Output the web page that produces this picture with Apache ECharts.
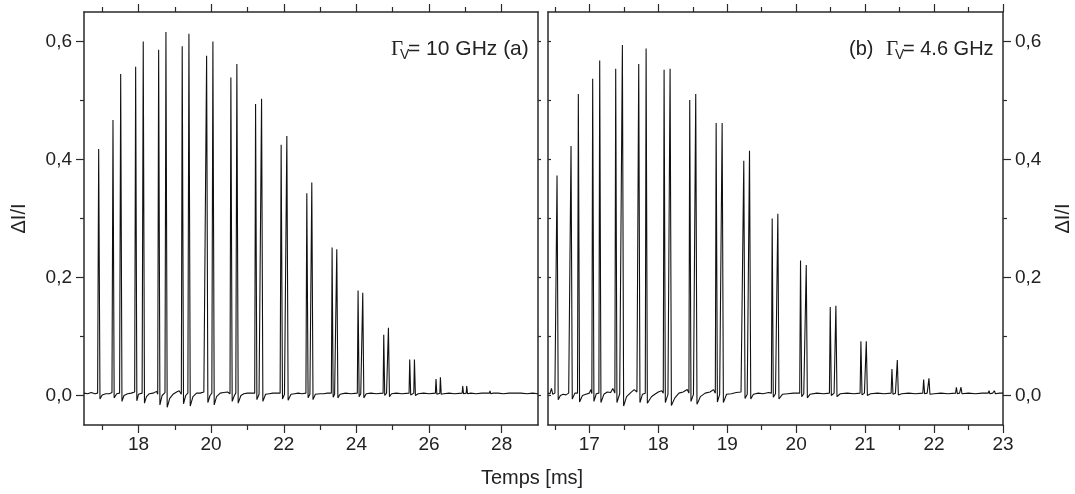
<!DOCTYPE html>
<html>
<head>
<meta charset="utf-8">
<script src="https://cdn.jsdelivr.net/npm/echarts@6/dist/echarts.min.js"></script>
<style>
html,body{margin:0;padding:0;background:#fff;}
#chart{width:1075px;height:494px;}
</style>
</head>
<body>
<div id="chart"></div>
<script>
// Panel (a): Gamma_V = 10 GHz  — [time ms, dI/I]
const traceA = [
[16.5,0.004],[16.6,0.003],[16.7,0.005],[16.8,0.003],[16.875,0.004],
[16.904,0.418],[16.94,-0.006],[17.0,0.001],[17.1,0.003],[17.2,0.003],[17.27,0.005],
[17.298,0.467],[17.33,-0.004],[17.4,0.003],[17.48,0.004],
[17.51,0.545],[17.545,-0.01],[17.6,0.0],[17.7,0.003],[17.8,0.004],[17.895,0.006],
[17.922,0.557],[17.955,-0.009],[18.0,0.002],[18.1,0.004],
[18.131,0.600],[18.165,-0.013],[18.22,-0.002],[18.3,0.003],[18.4,0.004],[18.5,0.007],[18.53,0.002],
[18.555,0.586],[18.59,-0.016],[18.65,0.0],[18.73,0.005],
[18.756,0.616],[18.79,-0.02],[18.86,-0.005],[18.95,0.002],[19.05,0.006],[19.12,0.008],[19.18,0.002],
[19.204,0.592],[19.24,-0.014],[19.3,0.0],[19.36,0.004],
[19.389,0.613],[19.425,-0.018],[19.5,-0.002],[19.6,0.004],[19.7,0.004],[19.8,0.006],[19.85,0.003],
[19.876,0.576],[19.91,-0.012],[19.97,0.0],[20.02,0.004],
[20.049,0.600],[20.085,-0.016],[20.15,-0.002],[20.25,0.004],[20.35,0.005],[20.45,0.006],[20.52,0.003],
[20.544,0.539],[20.58,-0.01],[20.64,0.0],[20.68,0.004],
[20.709,0.562],[20.745,-0.013],[20.82,0.0],[20.9,0.003],[21.0,0.004],[21.1,0.004],[21.2,0.004],
[21.224,0.494],[21.26,-0.007],[21.32,0.002],[21.36,0.004],
[21.389,0.503],[21.425,-0.01],[21.5,0.002],[21.6,0.003],[21.7,0.004],[21.8,0.004],[21.9,0.004],
[21.928,0.425],[21.965,-0.006],[22.02,0.002],[22.06,0.004],
[22.085,0.440],[22.12,-0.008],[22.2,0.002],[22.3,0.003],[22.4,0.004],[22.5,0.003],[22.61,0.004],
[22.635,0.343],[22.67,-0.004],[22.72,0.002],[22.75,0.004],
[22.772,0.361],[22.805,-0.007],[22.87,0.002],[23.0,0.003],[23.1,0.003],[23.2,0.004],[23.31,0.004],
[23.331,0.251],[23.36,-0.003],[23.4,0.002],[23.44,0.004],
[23.46,0.248],[23.49,-0.004],[23.55,0.002],[23.7,0.004],[23.85,0.003],[24.025,0.004],
[24.046,0.178],[24.075,-0.002],[24.12,0.003],[24.155,0.004],
[24.175,0.174],[24.205,-0.004],[24.27,0.003],[24.4,0.004],[24.55,0.003],[24.735,0.004],
[24.753,0.103],[24.78,0.0],[24.83,0.004],[24.865,0.004],
[24.882,0.115],[24.91,-0.002],[24.97,0.003],[25.1,0.004],[25.25,0.003],[25.45,0.004],
[25.468,0.061],[25.495,0.001],[25.54,0.004],[25.58,0.004],
[25.598,0.061],[25.625,0.0],[25.7,0.003],[25.85,0.004],[26.0,0.003],[26.175,0.004],
[26.192,0.028],[26.215,0.002],[26.26,0.004],[26.297,0.004],
[26.313,0.031],[26.335,0.002],[26.4,0.003],[26.55,0.004],[26.7,0.003],[26.912,0.004],
[26.927,0.016],[26.95,0.003],[27.0,0.004],[27.024,0.004],
[27.037,0.016],[27.06,0.003],[27.15,0.004],[27.3,0.003],[27.45,0.004],[27.665,0.004],
[27.678,0.008],[27.7,0.003],[27.766,0.004],
[27.779,0.006],[27.8,0.003],[27.9,0.004],[28.05,0.003],[28.2,0.004],[28.435,0.004],
[28.447,0.006],[28.47,0.003],[28.53,0.004],
[28.541,0.006],[28.56,0.003],[28.7,0.003],[28.85,0.004],[29.0,0.003]
];
// Panel (b): Gamma_V = 4.6 GHz — [time ms, dI/I]
const traceB = [
[16.4,0.004],[16.43,0.003],[16.45,0.012],[16.47,0.002],[16.5,0.004],[16.518,0.004],
[16.531,0.373],[16.548,-0.007],[16.58,0.0],[16.62,0.002],[16.66,0.001],[16.7,0.004],[16.722,0.004],
[16.734,0.423],[16.752,-0.006],[16.79,0.004],[16.828,0.004],
[16.840,0.511],[16.858,-0.011],[16.9,0.0],[16.95,0.002],[17.0,0.004],[17.02,0.010],[17.036,0.003],
[17.048,0.537],[17.066,-0.010],[17.1,0.003],[17.138,0.004],
[17.150,0.568],[17.168,-0.012],[17.21,0.002],[17.26,0.006],[17.31,0.005],[17.34,0.012],[17.37,0.004],
[17.382,0.554],[17.400,-0.012],[17.44,0.003],[17.467,0.004],
[17.479,0.594],[17.497,-0.018],[17.54,-0.002],[17.6,0.005],[17.65,0.010],[17.69,0.006],[17.704,0.003],
[17.716,0.562],[17.734,-0.012],[17.77,0.002],[17.811,0.004],
[17.823,0.588],[17.841,-0.013],[17.9,-0.002],[17.95,0.002],[18.0,0.006],[18.05,0.008],[18.072,0.004],
[18.084,0.552],[18.102,-0.012],[18.14,0.002],[18.159,0.004],
[18.171,0.554],[18.190,-0.017],[18.24,-0.004],[18.3,0.004],[18.36,0.006],[18.42,0.010],[18.444,0.004],
[18.456,0.501],[18.474,-0.010],[18.51,0.002],[18.531,0.004],
[18.543,0.511],[18.561,-0.015],[18.61,-0.002],[18.68,0.004],[18.75,0.006],[18.8,0.010],[18.827,0.004],
[18.839,0.462],[18.857,-0.011],[18.89,0.002],[18.914,0.004],
[18.926,0.462],[18.944,-0.012],[18.99,0.002],[19.06,0.003],[19.13,0.005],[19.2,0.006],[19.228,0.004],
[19.240,0.398],[19.258,-0.005],[19.29,0.002],[19.311,0.003],
[19.323,0.415],[19.341,-0.006],[19.38,0.002],[19.45,0.004],[19.52,0.003],[19.6,0.005],[19.64,0.004],
[19.652,0.300],[19.668,-0.003],[19.7,0.003],[19.722,0.004],
[19.734,0.308],[19.750,-0.006],[19.8,0.002],[19.88,0.003],[19.96,0.004],[20.051,0.004],
[20.063,0.229],[20.080,-0.002],[20.11,0.003],[20.134,0.004],
[20.146,0.221],[20.162,-0.004],[20.2,0.002],[20.3,0.004],[20.4,0.003],[20.482,0.004],
[20.494,0.150],[20.510,0.0],[20.55,0.004],[20.564,0.004],
[20.576,0.152],[20.592,-0.002],[20.64,0.003],[20.74,0.004],[20.84,0.003],[20.927,0.004],
[20.939,0.092],[20.955,0.001],[20.99,0.004],[21.005,0.004],
[21.017,0.092],[21.033,0.0],[21.08,0.003],[21.18,0.004],[21.28,0.003],[21.377,0.004],
[21.389,0.045],[21.404,0.002],[21.44,0.004],[21.455,0.004],
[21.467,0.060],[21.482,0.001],[21.53,0.003],[21.63,0.004],[21.73,0.003],[21.837,0.004],
[21.849,0.027],[21.863,0.003],[21.9,0.004],[21.914,0.004],
[21.926,0.029],[21.940,0.002],[22.0,0.003],[22.1,0.004],[22.2,0.003],[22.312,0.004],
[22.324,0.014],[22.338,0.003],[22.37,0.004],[22.379,0.004],
[22.391,0.014],[22.405,0.003],[22.5,0.004],[22.6,0.003],[22.7,0.004],[22.786,0.004],
[22.797,0.008],[22.81,0.003],[22.85,0.004],[22.864,0.004],
[22.875,0.008],[22.89,0.003],[22.95,0.004],[23.0,0.004]
];
// Axis ranges and tick values
const rangeA = [16.5, 29];
const rangeB = [16.4, 23];
const rangeY = [-0.05, 0.65];
const majorTicksA = [18, 20, 22, 24, 26, 28];
const minorTicksA = [17, 19, 21, 23, 25, 27];
const majorTicksB = [17, 18, 19, 20, 21, 22, 23];
const minorTicksB = [16.5, 17.5, 18.5, 19.5, 20.5, 21.5, 22.5];
const majorTicksY = [0, 0.2, 0.4, 0.6];
const minorTicksY = [0.1, 0.3, 0.5];
const yName = 'ΔI/I';
const xName = 'Temps [ms]';

const FONT = '"Liberation Sans", Arial, sans-serif';
const AX = '#2a2a2a';
const chart = echarts.init(document.getElementById('chart'), null, {renderer: 'canvas'});

function xAx(grid, range, pos, ticks, len, inside, labels, line) {
  return {
    type: 'value', gridIndex: grid, position: pos, min: range[0], max: range[1],
    axisLine: {show: line, onZero: false, lineStyle: {color: AX, width: 1.5}},
    axisTick: {show: true, customValues: ticks, length: len, inside: inside, lineStyle: {color: AX, width: 1.2}},
    axisLabel: labels ? {show: true, customValues: ticks, fontSize: 19, fontFamily: FONT, color: '#222', margin: 10,
      formatter: v => String(v)} : {show: false},
    splitLine: {show: false}
  };
}
function yAx(grid, pos, ticks, len, inside, labels, line, name, nameGap) {
  const o = {
    type: 'value', gridIndex: grid, position: pos, min: rangeY[0], max: rangeY[1],
    axisLine: {show: line, onZero: false, lineStyle: {color: AX, width: 1.5}},
    axisTick: {show: true, customValues: ticks, length: len, inside: inside, lineStyle: {color: AX, width: 1.2}},
    axisLabel: labels ? {show: true, customValues: ticks, fontSize: 19, fontFamily: FONT, color: '#222', margin: 12,
      formatter: v => v.toFixed(1).replace('.', ',')} : {show: false},
    splitLine: {show: false}
  };
  if (name) {
    o.name = name; o.nameLocation = 'middle'; o.nameGap = nameGap; o.nameRotate = 90;
    o.nameTextStyle = {fontSize: 20, fontFamily: FONT, color: '#222'};
  }
  return o;
}

const option = {
  animation: false,
  backgroundColor: '#fff',
  grid: [
    {left: 84, top: 12, width: 454, height: 413, containLabel: false, outerBoundsMode: 'none'},
    {left: 548, top: 12, width: 455, height: 413, containLabel: false, outerBoundsMode: 'none'}
  ],
  xAxis: [
    xAx(0, rangeA, 'bottom', majorTicksA, 8, false, true, true),
    xAx(0, rangeA, 'bottom', minorTicksA, 5, false, false, false),
    xAx(0, rangeA, 'top', majorTicksA, 8, false, false, true),
    xAx(0, rangeA, 'top', minorTicksA, 5, false, false, false),
    xAx(1, rangeB, 'bottom', majorTicksB, 8, false, true, true),
    xAx(1, rangeB, 'bottom', minorTicksB, 5, false, false, false),
    xAx(1, rangeB, 'top', majorTicksB, 8, false, false, true),
    xAx(1, rangeB, 'top', minorTicksB, 5, false, false, false)
  ],
  yAxis: [
    yAx(0, 'left', majorTicksY, 8, false, true, true, yName, 55),
    yAx(0, 'left', minorTicksY, 4, false, false, false),
    yAx(0, 'right', majorTicksY, 3, false, false, true),
    yAx(0, 'right', minorTicksY, 3, false, false, false),
    yAx(1, 'right', majorTicksY, 8, false, true, true, yName, 50),
    yAx(1, 'right', minorTicksY, 4, false, false, false),
    yAx(1, 'left', majorTicksY, 3, true, false, true),
    yAx(1, 'left', minorTicksY, 3, true, false, false)
  ],
  series: [
    {type: 'line', xAxisIndex: 0, yAxisIndex: 0, data: traceA, showSymbol: false, symbol: 'none',
      lineStyle: {color: '#111', width: 1.1}, silent: true},
    {type: 'line', xAxisIndex: 4, yAxisIndex: 4, data: traceB, showSymbol: false, symbol: 'none',
      lineStyle: {color: '#111', width: 1.1}, silent: true}
  ],
  graphic: [
    {type: 'text', x: 391, y: 49, style: {text: 'Γ', font: '21px "Liberation Serif", serif', fill: '#222', textVerticalAlign: 'middle', verticalAlign: 'middle'}},
    {type: 'text', x: 400, y: 55, style: {text: 'V', font: '14px "Liberation Sans", sans-serif', fill: '#222', textVerticalAlign: 'middle', verticalAlign: 'middle'}},
    {type: 'text', x: 408, y: 49, style: {text: '= 10 GHz (a)', font: '21px "Liberation Sans", sans-serif', fill: '#222', textVerticalAlign: 'middle', verticalAlign: 'middle'}},
    {type: 'text', x: 849, y: 49, style: {text: '(b)', font: '20px "Liberation Sans", sans-serif', fill: '#222', textVerticalAlign: 'middle', verticalAlign: 'middle'}},
    {type: 'text', x: 886, y: 49, style: {text: 'Γ', font: '21px "Liberation Serif", serif', fill: '#222', textVerticalAlign: 'middle', verticalAlign: 'middle'}},
    {type: 'text', x: 895, y: 55, style: {text: 'V', font: '14px "Liberation Sans", sans-serif', fill: '#222', textVerticalAlign: 'middle', verticalAlign: 'middle'}},
    {type: 'text', x: 903, y: 49, style: {text: '= 4.6 GHz', font: '20px "Liberation Sans", sans-serif', fill: '#222', textVerticalAlign: 'middle', verticalAlign: 'middle'}},
    {type: 'text', x: 532, y: 478, style: {text: xName, font: '20px "Liberation Sans", sans-serif', fill: '#222', textAlign: 'center', align: 'center', textVerticalAlign: 'middle', verticalAlign: 'middle'}}
  ]
};
chart.setOption(option);
</script>
</body>
</html>
